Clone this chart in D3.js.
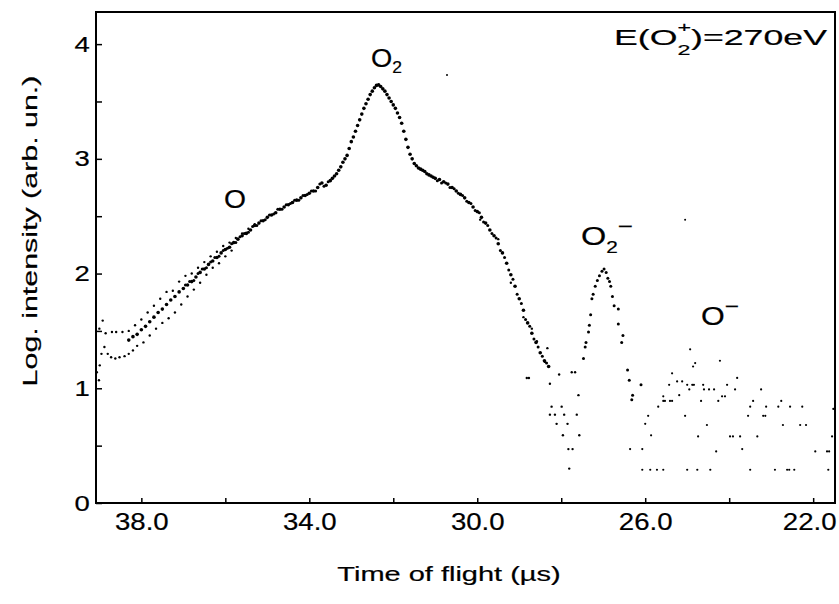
<!DOCTYPE html>
<html><head><meta charset="utf-8">
<script src="https://cdn.jsdelivr.net/npm/d3@7"></script>
<style>
body{margin:0;background:#fff}
text{font-family:"Liberation Sans",Arial,Helvetica,sans-serif;fill:#000;stroke:#000;stroke-width:0.2px}
</style>
</head><body>
<svg id="c" width="839" height="604"></svg>
<script>
// ---- data: [time of flight (µs), log intensity] ----
const scanMain = [[38.3,1.42],[38.2,1.45],[38.1,1.47],[38.0,1.51],[37.9,1.54],[37.8,1.58],[37.7,1.62],[37.6,1.66],[37.5,1.69],[37.4,1.73],[37.3,1.77],[37.2,1.80],[37.1,1.84],[37.0,1.87],[36.9,1.90],[36.8,1.93],[36.7,1.97],[36.6,2.01],[36.5,2.04],[36.4,2.08],[36.3,2.11],[36.2,2.14],[36.1,2.18],[36.0,2.21],[35.9,2.23],[35.8,2.27],[35.7,2.30],[35.6,2.33],[35.5,2.35],[35.4,2.38],[35.3,2.42],[35.2,2.44],[35.1,2.46],[35.0,2.49],[34.9,2.51],[34.8,2.53],[34.7,2.56],[34.6,2.58],[34.5,2.60],[34.4,2.62],[34.3,2.64],[34.2,2.66],[34.1,2.68],[34.0,2.70],[33.9,2.72],[33.8,2.75],[33.7,2.79],[33.6,2.77],[33.5,2.81],[33.45,2.83],[33.4,2.85],[33.35,2.87],[33.3,2.90],[33.25,2.93],[33.2,2.97],[33.15,3.00],[33.1,3.03],[33.05,3.09],[33.0,3.15],[32.95,3.19],[32.9,3.24],[32.85,3.29],[32.8,3.34],[32.75,3.39],[32.7,3.44],[32.65,3.48],[32.6,3.52],[32.55,3.56],[32.5,3.59],[32.45,3.62],[32.4,3.64],[32.35,3.645],[32.3,3.63],[32.25,3.61],[32.2,3.59],[32.15,3.56],[32.1,3.53],[32.05,3.50],[32.0,3.47],[31.95,3.44],[31.9,3.40],[31.85,3.36],[31.8,3.31],[31.75,3.24],[31.7,3.17],[31.65,3.10],[31.6,3.04],[31.55,3.00],[31.5,2.96],[31.45,2.94],[31.4,2.92],[31.35,2.91],[31.3,2.90],[31.25,2.89],[31.2,2.87],[31.15,2.86],[31.1,2.85],[31.05,2.84],[31.0,2.83],[30.9,2.82],[30.8,2.80],[30.7,2.78],[30.6,2.75],[30.5,2.72],[30.4,2.69],[30.3,2.66],[30.2,2.62],[30.1,2.58],[30.0,2.54],[29.9,2.49],[29.8,2.44],[29.7,2.38],[29.6,2.33],[29.5,2.26],[29.4,2.18],[29.3,2.09],[29.2,1.99],[29.1,1.89],[29.0,1.78],[28.9,1.68],[28.8,1.57],[28.7,1.48],[28.6,1.40],[28.5,1.31],[28.4,1.24],[28.3,1.19]];
const scanSecond = [[36.95,1.90],[36.85,1.93],[36.75,1.94],[36.65,2.00],[36.55,2.04],[36.45,2.05],[36.35,2.10],[36.25,2.14],[36.15,2.15],[36.05,2.20],[35.95,2.22],[35.85,2.26],[35.75,2.27],[35.65,2.32],[35.55,2.35],[35.45,2.36],[35.35,2.41],[35.25,2.42],[35.15,2.46],[35.05,2.47],[34.95,2.51],[34.85,2.52],[34.75,2.56],[34.65,2.56],[34.55,2.60],[34.45,2.61],[34.35,2.64],[34.25,2.64],[34.15,2.68],[34.05,2.69],[33.95,2.72],[33.85,2.72],[33.75,2.78],[33.65,2.76],[33.55,2.80],[30.95,2.81],[30.85,2.79],[30.75,2.79],[30.65,2.75],[30.55,2.74],[30.45,2.70],[30.35,2.68],[30.25,2.63],[30.15,2.61],[30.05,2.55],[29.95,2.53],[29.85,2.45],[29.75,2.42],[29.65,2.35],[29.55,2.31],[29.45,2.20],[29.35,2.14],[29.25,2.03],[29.15,1.95],[29.05,1.82],[28.95,1.74],[28.85,1.60],[28.75,1.54],[28.65,1.43],[28.55,1.36],[28.45,1.28],[28.35,1.22]];
const scanUpper = [[39.0,1.52],[38.92,1.59],[38.85,1.48],[38.7,1.49],[38.6,1.49],[38.45,1.49],[38.3,1.50],[38.15,1.55],[38.0,1.60],[37.85,1.66],[37.7,1.72],[37.55,1.78],[37.4,1.84],[37.25,1.85],[37.1,1.93],[36.95,1.98],[36.8,2.00],[36.65,2.05],[36.5,2.10],[36.35,2.15],[36.2,2.19],[36.05,2.24],[35.9,2.27],[35.75,2.31],[35.6,2.35],[35.45,2.39],[35.3,2.43]];
const scanLower = [[39.06,1.14],[39.01,1.07],[38.99,1.20],[38.95,1.30],[38.88,1.36],[38.8,1.30],[38.72,1.27],[38.62,1.26],[38.52,1.27],[38.4,1.28],[38.3,1.30],[38.2,1.33],[38.1,1.37],[37.95,1.40],[37.8,1.46],[37.65,1.52],[37.5,1.57],[37.35,1.61],[37.2,1.66],[37.05,1.73],[36.9,1.80],[36.75,1.86],[36.6,1.92],[36.45,1.99],[36.3,2.05],[36.15,2.09],[36.0,2.15],[35.85,2.20]];
const scanTail = [[29.93,2.47],[29.5,2.30],[29.2,1.92],[28.9,1.62],[28.7,1.52],[28.58,1.41],[28.33,1.35],[28.39,1.23]];
const dipPoints = [[28.82,1.09],[28.77,1.09],[28.27,1.04],[28.05,1.12],[27.75,1.14],[27.67,1.14],[27.59,0.94],[28.23,0.84],[27.99,0.84],[28.27,0.77],[28.15,0.77],[27.93,0.77],[27.63,0.77],[28.11,0.69],[27.85,0.69],[27.96,0.59],[27.57,0.59],[27.83,0.47],[27.73,0.47],[27.81,0.30]];
const peakO2minus = [[27.47,1.26],[27.43,1.36],[27.41,1.40],[27.35,1.49],[27.33,1.55],[27.30,1.64],[27.27,1.78],[27.24,1.82],[27.19,1.89],[27.14,1.94],[27.09,1.98],[27.03,2.02],[26.98,2.04],[26.93,2.01],[26.89,1.96],[26.85,1.93],[26.82,1.89],[26.78,1.80],[26.74,1.72],[26.64,1.69],[26.64,1.56],[26.53,1.46],[26.56,1.40],[26.42,1.16],[26.38,1.07],[26.30,0.94],[26.32,0.90],[26.10,1.03]];
const noiseOminus = [[26.36,0.47],[26.07,0.47],[26.07,0.29],[25.88,0.29],[25.72,0.29],[25.57,0.29],[26.00,0.69],[25.93,0.76],[25.86,0.59],[25.69,0.84],[25.57,0.89],[25.57,0.93],[25.53,0.89],[25.41,0.89],[25.36,0.89],[25.43,1.03],[25.36,1.13],[25.24,1.06],[25.12,1.06],[25.19,0.94],[25.05,0.76],[25.00,1.03],[24.88,1.03],[24.84,1.03],[25.00,0.29],[24.76,0.29],[24.93,1.34],[24.86,1.19],[24.81,1.22],[24.95,0.99],[24.74,0.58],[24.67,0.89],[24.62,1.03],[24.60,0.99],[24.53,0.68],[24.45,0.29],[24.48,0.99],[24.36,0.99],[24.31,0.45],[24.26,0.89],[24.22,1.24],[24.17,0.93],[24.10,0.93],[24.05,1.03],[23.98,0.58],[23.91,0.58],[23.74,0.58],[23.86,0.99],[23.81,1.09],[23.69,0.47],[23.50,0.29],[23.55,0.76],[23.50,0.84],[23.43,0.89],[23.33,0.58],[23.24,0.99],[23.19,0.76],[23.14,0.76],[23.12,0.84],[22.91,0.29],[22.83,0.84],[22.76,0.89],[22.72,0.68],[22.62,0.29],[22.57,0.29],[22.45,0.29],[22.55,0.84],[22.26,0.84],[22.31,0.68],[22.17,0.68],[21.95,0.45],[21.67,0.45],[21.62,0.45],[21.52,0.82],[21.64,0.29],[21.55,0.58]];
const strayPoints = [[25.05,2.47],[30.72,3.73]];

const xMajorTicks = [38, 34, 30, 26, 22];
const xMinorTicks = [36, 32, 28, 24];
const yMajorTicks = [0, 1, 2, 3, 4];
const yMinorTicks = [0.5, 1.5, 2.5, 3.5];
const xTitle = "Time of flight (\u00b5s)";
const yTitle = "Log. intensity (arb. un.)";

// ---- layout ----
const svg = d3.select("#c");
const L = 96, R = 835, T = 12, B = 503;
const x = d3.scaleLinear().domain([39.08, 21.48]).range([L, R]);
const y = d3.scaleLinear().domain([0, 4.28]).range([B, T]);

function hstretch(sel, sx) {
  sel.each(function () {
    const s = d3.select(this);
    const tx = +s.attr("x") || 0;
    s.attr("transform", `translate(${tx},0) scale(${sx},1) translate(${-tx},0)`);
  });
}

// axes
const gx = svg.append("g").attr("transform", `translate(0,${B})`)
  .call(d3.axisBottom(x).tickValues(xMajorTicks).tickSize(-5).tickPadding(11).tickFormat(d3.format(".1f")));
gx.append("g").call(d3.axisBottom(x).tickValues(xMinorTicks).tickSize(-5).tickFormat(""));
const gy = svg.append("g").attr("transform", `translate(${L},0)`)
  .call(d3.axisLeft(y).tickValues(yMajorTicks).tickSize(-6).tickPadding(6.2).tickFormat(d3.format("d")));
gy.append("g").call(d3.axisLeft(y).tickValues(yMinorTicks).tickSize(-6).tickFormat(""));
svg.selectAll(".domain").remove();
svg.selectAll(".tick line").attr("stroke", "#000").attr("stroke-width", 1.5);
gx.selectAll(".tick text").attr("font-size", 23).attr("font-family", "Liberation Sans, Arial, sans-serif").attr("fill", "#000");
gx.selectAll(".tick text").filter(d => d === 22).attr("x", -4);
hstretch(gx.selectAll(".tick text"), 1.2);
gy.selectAll(".tick text").attr("font-size", 22).attr("font-family", "Liberation Sans, Arial, sans-serif").attr("fill", "#000");
hstretch(gy.selectAll(".tick text"), 1.25);

// frame
svg.append("rect").attr("x", L).attr("y", T).attr("width", R - L).attr("height", B - T)
  .attr("fill", "none").attr("stroke", "#000").attr("stroke-width", 2);

// points
function dots(data, r) {
  svg.append("g").selectAll("circle").data(data).join("circle")
    .attr("cx", d => x(d[0])).attr("cy", d => y(d[1])).attr("r", r).attr("fill", "#000");
}
dots(scanMain, 1.8);
dots(scanSecond, 1.5);
dots(scanUpper, 1.2);
dots(scanLower, 1.2);
dots(scanTail, 1.2);
dots(dipPoints, 1.2);
dots(peakO2minus, 1.5);
dots(noiseOminus, 1.1);
dots(strayPoints, 1.0);

// labels built from parts
function label(parts, x0, y0, target) {
  const g = svg.append("g");
  let cx = 0, prevX = 0;
  parts.forEach(p => {
    const px = p.stack ? prevX : cx;
    const t = g.append("text").attr("x", px).attr("y", p.dy || 0).attr("font-size", p.size).text(p.t);
    const w = t.node().getComputedTextLength();
    cx = p.stack ? Math.max(cx, px + w) : px + w;
    prevX = px;
  });
  const sx = target ? target / cx : 1;
  g.attr("transform", `translate(${x0},${y0}) scale(${sx},1)`);
}
label([{t: "O", size: 25}], 224, 208, 22);
label([{t: "O", size: 25}, {t: "2", size: 16, dy: 6}], 371, 67, 31);
label([{t: "O", size: 25}, {t: "2", size: 16, dy: 8}, {t: "\u2212", size: 20, dy: -12}], 581, 245, 52);
label([{t: "O", size: 25}, {t: "\u2212", size: 20, dy: -12}], 701, 325, 38);
label([{t: "E(O", size: 23}, {t: "2", size: 15, dy: 10}, {t: "+", size: 15, dy: -13, stack: true}, {t: ")=270eV", size: 23}], 614, 45, 213);

// axis titles
svg.append("text").attr("x", 0).attr("y", 0).attr("font-size", 20).attr("text-anchor", "middle").text(xTitle)
  .attr("transform", `translate(449,581) scale(1.45,1)`);
svg.append("text").attr("x", 0).attr("y", 0).attr("font-size", 20).attr("text-anchor", "middle").text(yTitle)
  .attr("transform", `translate(37,231) rotate(-90) scale(1.52,1)`);
</script>
</body></html>
